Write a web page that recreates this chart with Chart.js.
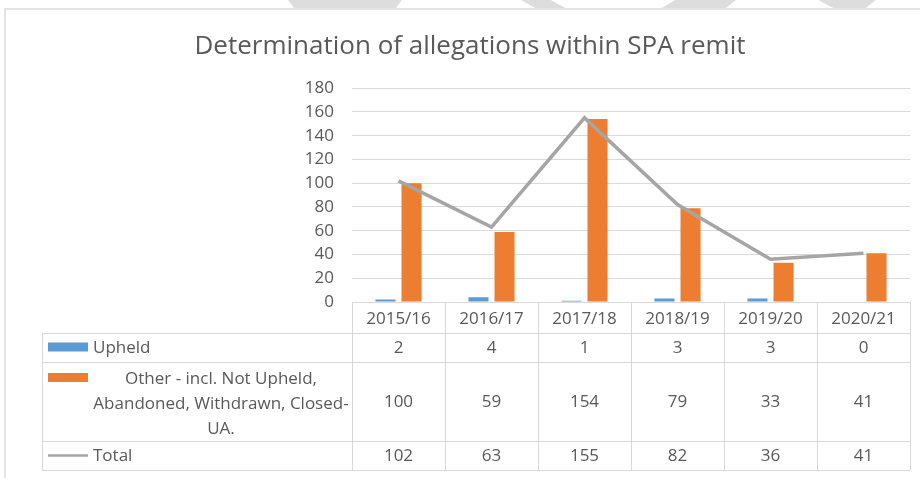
<!DOCTYPE html>
<html>
<head>
<meta charset="utf-8">
<script src="https://cdn.jsdelivr.net/npm/chart.js@4.4.0/dist/chart.umd.min.js"></script>
<style>
    body { margin: 0; background: #fff; }
    #wrap { position: relative; width: 920px; height: 478px; overflow: hidden; background: #fff; }
    #frame { position: absolute; left: 4px; top: 8px; width: 1000px; height: 600px; border: 2px solid #E4E4E4; }
    .wm { position: absolute; top: 0; height: 9px; background: #DDDDDD; }
    canvas { position: absolute; left: 0; top: 0; }
</style>
</head>
<body>
<div id="wrap">
    <div class="wm" style="left:288px;width:114px;clip-path:polygon(0 0,100% 0,94% 100%,6% 100%)"></div>
    <div class="wm" style="left:521px;width:46px;clip-path:polygon(0 0,65% 0,100% 100%,35% 100%)"></div>
    <div class="wm" style="left:660px;width:76px;clip-path:polygon(20% 0,100% 0,85% 100%,0 100%)"></div>
    <div class="wm" style="left:818px;width:58px;clip-path:polygon(0 0,100% 0,80% 100%,30% 100%)"></div>
    <div id="frame"></div>
    <canvas id="chart" width="920" height="478"></canvas>
</div>
<script>
// Dados do gráfico
const categories = ['2015/16', '2016/17', '2017/18', '2018/19', '2019/20', '2020/21'];
const upheld = [2, 4, 1, 3, 3, 0];
const other = [100, 59, 154, 79, 33, 41];
const total = [102, 63, 155, 82, 36, 41];
const yMin = 0;
const yMax = 180;
const yStep = 20;
const upheldLabel = 'Upheld';
const otherLabel = ['Other - incl. Not Upheld,', 'Abandoned, Withdrawn, Closed-', 'UA.'];
const totalLabel = 'Total';

const FONT = "'Open Sans', sans-serif";
const TEXT = '#595959';
const GRID = '#D9D9D9';

// Tabela de dados desenhada abaixo do gráfico (estilo Excel)
const dataTablePlugin = {
    id: 'dataTable',
    afterDraw(chart) {
        const ctx = chart.ctx;
        const area = chart.chartArea;
        const n = categories.length;
        const colW = (area.right - area.left) / n;
        const tableLeft = 42;
        const lines = [333, 362, 441, 470];
        const rows = [
            { top: 333, bottom: 362, ds: 0 },
            { top: 362, bottom: 441, ds: 1 },
            { top: 441, bottom: 470, ds: 2 }
        ];

        ctx.save();
        ctx.strokeStyle = GRID;
        ctx.lineWidth = 1;
        ctx.beginPath();
        ctx.moveTo(area.left, area.bottom + 0.5);
        ctx.lineTo(area.right, area.bottom + 0.5);
        lines.forEach(y => {
            ctx.moveTo(tableLeft, y + 0.5);
            ctx.lineTo(area.right, y + 0.5);
        });
        ctx.moveTo(tableLeft + 0.5, lines[0]);
        ctx.lineTo(tableLeft + 0.5, lines[3] + 0.5);
        for (let i = 0; i <= n; i++) {
            const x = Math.round(area.left + i * colW) + 0.5;
            ctx.moveTo(x, area.bottom);
            ctx.lineTo(x, lines[3] + 0.5);
        }
        ctx.stroke();

        ctx.font = '17px ' + FONT;
        ctx.fillStyle = TEXT;
        ctx.textBaseline = 'middle';

        rows.forEach(row => {
            const ds = chart.data.datasets[row.ds];
            const mid = (row.top + row.bottom) / 2 + 1;

            // chave da legenda
            if (ds.type === 'line') {
                ctx.strokeStyle = ds.borderColor;
                ctx.lineWidth = 2.5;
                ctx.beginPath();
                ctx.moveTo(48, mid - 1);
                ctx.lineTo(88, mid - 1);
                ctx.stroke();
            } else {
                ctx.fillStyle = ds.backgroundColor;
                const ky = Array.isArray(ds.label) ? row.top + 11 : mid - 6;
                ctx.fillRect(48, ky, 40, 9);
            }

            // rótulo da série
            ctx.fillStyle = TEXT;
            if (Array.isArray(ds.label)) {
                ctx.textAlign = 'center';
                ds.label.forEach((line, j) => {
                    ctx.fillText(line, 221, row.top + 17 + j * 25);
                });
            } else {
                ctx.textAlign = 'left';
                ctx.fillText(ds.label, 93, mid);
            }

            // valores
            ctx.textAlign = 'center';
            ds.data.forEach((v, i) => {
                const x = chart.scales.x.getPixelForTick(i);
                ctx.fillText(String(v), x, mid);
            });
        });
        ctx.restore();
    }
};

new Chart(document.getElementById('chart'), {
    type: 'bar',
    data: {
        labels: categories,
        datasets: [
            {
                label: upheldLabel,
                data: upheld,
                backgroundColor: '#5B9BD5',
                categoryPercentage: 0.56,
                barPercentage: 0.77,
                order: 1
            },
            {
                label: otherLabel,
                data: other,
                backgroundColor: '#ED7D31',
                categoryPercentage: 0.56,
                barPercentage: 0.77,
                order: 1
            },
            {
                type: 'line',
                label: totalLabel,
                data: total,
                borderColor: '#A5A5A5',
                borderWidth: 3.5,
                pointRadius: 0,
                tension: 0,
                fill: false,
                order: 0
            }
        ]
    },
    options: {
        responsive: false,
        animation: false,
        layout: {
            padding: { left: 30, right: 10, top: 0, bottom: 0 }
        },
        plugins: {
            legend: { display: false },
            tooltip: { enabled: false },
            title: {
                display: true,
                text: 'Determination of allegations within SPA remit',
                color: TEXT,
                font: { family: FONT, size: 26, weight: 'normal' },
                padding: { top: 31, bottom: 26 }
            }
        },
        scales: {
            x: {
                grid: { display: false, drawTicks: false },
                border: { display: false },
                ticks: {
                    color: TEXT,
                    font: { family: FONT, size: 17 },
                    padding: 7
                },
                afterFit(scale) {
                    scale.height = 176;
                }
            },
            y: {
                min: yMin,
                max: yMax,
                grid: { color: GRID, drawTicks: false },
                border: { display: false },
                ticks: {
                    stepSize: yStep,
                    color: TEXT,
                    font: { family: FONT, size: 17 },
                    padding: 18
                },
                afterFit(scale) {
                    scale.width = 322;
                }
            }
        }
    },
    plugins: [dataTablePlugin]
});
</script>
</body>
</html>
